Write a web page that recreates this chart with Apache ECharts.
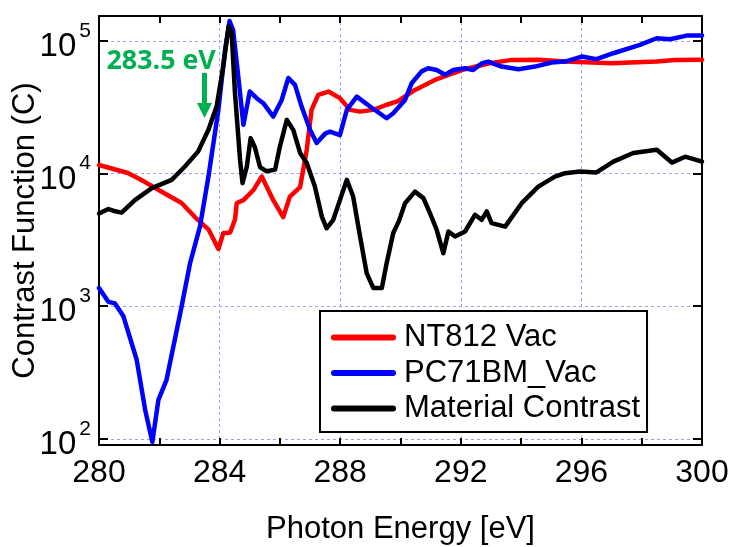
<!DOCTYPE html>
<html>
<head>
<meta charset="utf-8">
<script src="https://cdn.jsdelivr.net/npm/echarts@6/dist/echarts.min.js"></script>
<style>
html, body { margin: 0; padding: 0; background: #fff; }
#chart { width: 729px; height: 547px; }
</style>
</head>
<body>
<div id="chart"></div>
<script>
// Contrast function spectra around the carbon K-edge
const seriesNames = ['NT812 Vac', 'PC71BM_Vac', 'Material Contrast'];

const ntEnergy = [280.0, 280.96, 281.5, 282.08, 282.74, 283.18, 283.63, 283.96, 284.12, 284.35, 284.51, 284.57, 284.79, 285.12, 285.40, 285.78, 286.11, 286.33, 286.67, 286.89, 287.05, 287.27, 287.61, 287.99, 288.33, 288.66, 289.1, 289.54, 289.9, 290.48, 291.14, 292.03, 292.91, 293.69, 294.6, 295.46, 297.0, 298.5, 299.1, 300.0];
const ntValue = [11600, 10100, 8700, 7300, 6000, 4700, 3800, 2700, 3550, 3600, 4500, 6000, 6300, 7500, 9500, 6300, 4700, 6700, 7900, 15100, 30200, 39200, 41500, 37000, 30200, 29300, 30200, 33000, 35000, 42700, 50800, 60300, 67600, 71900, 72000, 69800, 67900, 69800, 71900, 72000];

const pcEnergy = [280.0, 280.31, 280.53, 280.81, 281.25, 281.53, 281.77, 281.97, 282.24, 282.74, 283.02, 283.35, 283.63, 283.96, 284.18, 284.33, 284.45, 284.62, 284.79, 285.0, 285.23, 285.45, 285.78, 286.06, 286.28, 286.5, 286.72, 287.0, 287.22, 287.5, 287.66, 287.99, 288.22, 288.55, 288.99, 289.54, 289.76, 290.15, 290.37, 290.7, 290.92, 291.2, 291.48, 291.75, 292.14, 292.41, 292.69, 292.91, 293.35, 293.91, 294.46, 295.01, 295.46, 296.01, 296.5, 297.06, 297.94, 298.5, 298.94, 299.49, 300.0];
const pcValue = [1370, 1080, 1050, 840, 395, 166, 95, 197, 279, 995, 2110, 4000, 9480, 30200, 85100, 141000, 120000, 53700, 23300, 41500, 37000, 33900, 26900, 35900, 52500, 46600, 32000, 21400, 17000, 20000, 20700, 19500, 30200, 38000, 32000, 26100, 28500, 35900, 47900, 58900, 62200, 60300, 55500, 60300, 62200, 60300, 67600, 69800, 64000, 61200, 64000, 68700, 69800, 76200, 72800, 80700, 93300, 104700, 103000, 109600, 109600];

const mcEnergy = [280.0, 280.31, 280.47, 280.75, 281.19, 281.75, 282.41, 282.85, 283.29, 283.63, 283.9, 284.12, 284.3, 284.4, 284.51, 284.68, 284.76, 284.9, 285.03, 285.17, 285.34, 285.56, 285.84, 286.0, 286.23, 286.44, 286.67, 286.89, 287.16, 287.39, 287.55, 287.77, 287.99, 288.22, 288.43, 288.66, 288.88, 289.1, 289.38, 289.54, 289.76, 289.95, 290.15, 290.48, 290.76, 290.98, 291.2, 291.42, 291.59, 291.81, 292.14, 292.47, 292.69, 292.86, 293.02, 293.47, 294.02, 294.57, 295.12, 295.46, 295.95, 296.5, 297.06, 297.72, 298.5, 299.0, 299.44, 300.0];
const mcValue = [5000, 5400, 5250, 5080, 6300, 7760, 8970, 11300, 14700, 21400, 32000, 64000, 129000, 115000, 40400, 12600, 8470, 11200, 18500, 15800, 11200, 10400, 10700, 16000, 25400, 21400, 14300, 12000, 7980, 4740, 3870, 4480, 6310, 8970, 6710, 3350, 1770, 1370, 1370, 2110, 3560, 4400, 5980, 7310, 6530, 5010, 3770, 2510, 3660, 3350, 3660, 4890, 4480, 5180, 4230, 3980, 5980, 7980, 9480, 10070, 10350, 10200, 12300, 14300, 15100, 12100, 13400, 12300];

// axis ranges
const xMin = 280, xMax = 300, xStep = 4;
const yMin = 90, yMax = 154000;

// annotation: arrow marking 283.5 eV
const arrowEnergy = 283.5;
const arrowFrom = 57400, arrowTo = 29900;
const annotationText = '283.5 eV';
const annotationAt = [282.06, 69500];

const colors = ['#ff0000', '#0000ff', '#000000'];
const green = '#00b050';
const gridBlue = '#9c9cff';
const font = 'Liberation Sans, Arial, sans-serif';

const zip = (xs, ys) => xs.map((x, i) => [x, ys[i]]);

const frame = { show: true, onZero: false, lineStyle: { color: '#000', width: 2 } };
const tickStyle = { color: '#000', width: 2 };
const dotted = { show: true, lineStyle: { type: [3, 3], color: gridBlue, width: 1 } };

function xAxisDef(bottom) {
  return {
    type: 'value', min: xMin, max: xMax, interval: xStep,
    position: bottom ? 'bottom' : 'top',
    axisLine: frame,
    axisTick: { show: true, inside: true, length: 7, lineStyle: tickStyle },
    minorTick: { show: true, splitNumber: 2, length: 7, lineStyle: tickStyle },
    axisLabel: bottom
      ? { show: true, fontSize: 32, color: '#000', fontFamily: font, margin: 12 }
      : { show: false },
    splitLine: bottom ? dotted : { show: false },
    name: bottom ? 'Photon Energy [eV]' : '',
    nameLocation: 'middle', nameGap: 69,
    nameTextStyle: { fontSize: 31, color: '#000', fontFamily: font }
  };
}

// decade labels: "10" with a raised exponent
function decadeLabel(v) {
  const e = Math.log10(v);
  if (Math.abs(e - Math.round(e)) > 1e-6) return '';
  return '{b|10}{s|' + Math.round(e) + '}';
}

function yAxisDef(left) {
  return {
    type: 'log', logBase: 10, min: yMin, max: yMax,
    position: left ? 'left' : 'right',
    axisLine: frame,
    axisTick: { show: true, inside: true, length: 9, lineStyle: tickStyle },
    minorTick: { show: false },
    axisLabel: left ? {
      show: true, margin: 8, formatter: decadeLabel,
      rich: {
        b: { fontSize: 33, color: '#000', fontFamily: font, lineHeight: 34, padding: [12, 0, 0, 0] },
        s: { fontSize: 21, color: '#000', fontFamily: font, lineHeight: 22, padding: [0, 0, 20, 3] }
      }
    } : { show: false },
    splitLine: left ? dotted : { show: false },
    name: left ? 'Contrast Function (C)' : '',
    nameLocation: 'middle', nameGap: 58, nameRotate: 90, nameMoveOverlap: false,
    nameTextStyle: { fontSize: 31, color: '#000', fontFamily: font }
  };
}

const chart = echarts.init(document.getElementById('chart'), null, { renderer: 'canvas' });

const series = [
  { name: seriesNames[0], data: zip(ntEnergy, ntValue), color: colors[0] },
  { name: seriesNames[1], data: zip(pcEnergy, pcValue), color: colors[1] },
  { name: seriesNames[2], data: zip(mcEnergy, mcValue), color: colors[2] }
].map((s, i) => ({
  name: s.name, type: 'line', xAxisIndex: 0, yAxisIndex: 0,
  data: s.data, symbol: 'none', showSymbol: false, smooth: false,
  lineStyle: { color: s.color, width: 4.5, join: 'round', cap: 'round' },
  itemStyle: { color: s.color },
  z: 3 + i
}));

// arrow + label attached to the black series
series[2].markLine = {
  silent: true,
  symbol: ['none', 'triangle'],
  symbolSize: [15, 15],
  lineStyle: { color: green, width: 5, type: 'solid' },
  label: { show: false },
  data: [[{ coord: [arrowEnergy, arrowFrom] }, { coord: [arrowEnergy, arrowTo] }]]
};
series[2].markPoint = {
  silent: true,
  symbol: 'circle', symbolSize: 1,
  itemStyle: { color: 'rgba(0,0,0,0)' },
  label: {
    show: true, position: 'inside', formatter: annotationText,
    fontSize: 26.8, fontWeight: 'bold', color: green, fontFamily: 'Open Sans, sans-serif'
  },
  data: [{ coord: annotationAt }]
};

chart.setOption({
  animation: false,
  backgroundColor: '#fff',
  grid: { left: 99, right: 27, top: 16, bottom: 102, containLabel: false, outerBoundsMode: 'none' },
  xAxis: [xAxisDef(true), xAxisDef(false)],
  yAxis: [yAxisDef(true), yAxisDef(false)],
  legend: {
    data: seriesNames,
    orient: 'vertical', left: 320, top: 311,
    padding: [11, 7, 8, 11],
    itemGap: 4.5, itemWidth: 59, itemHeight: 31,
    backgroundColor: '#fff', borderColor: '#000', borderWidth: 2, borderRadius: 0,
    itemStyle: { opacity: 0 },
    lineStyle: { width: 6, opacity: 1 },
    textStyle: { fontSize: 31, color: '#000', fontFamily: font, lineHeight: 31, padding: [0, 0, 0, 6] }
  },
  series: series
});
</script>
</body>
</html>
